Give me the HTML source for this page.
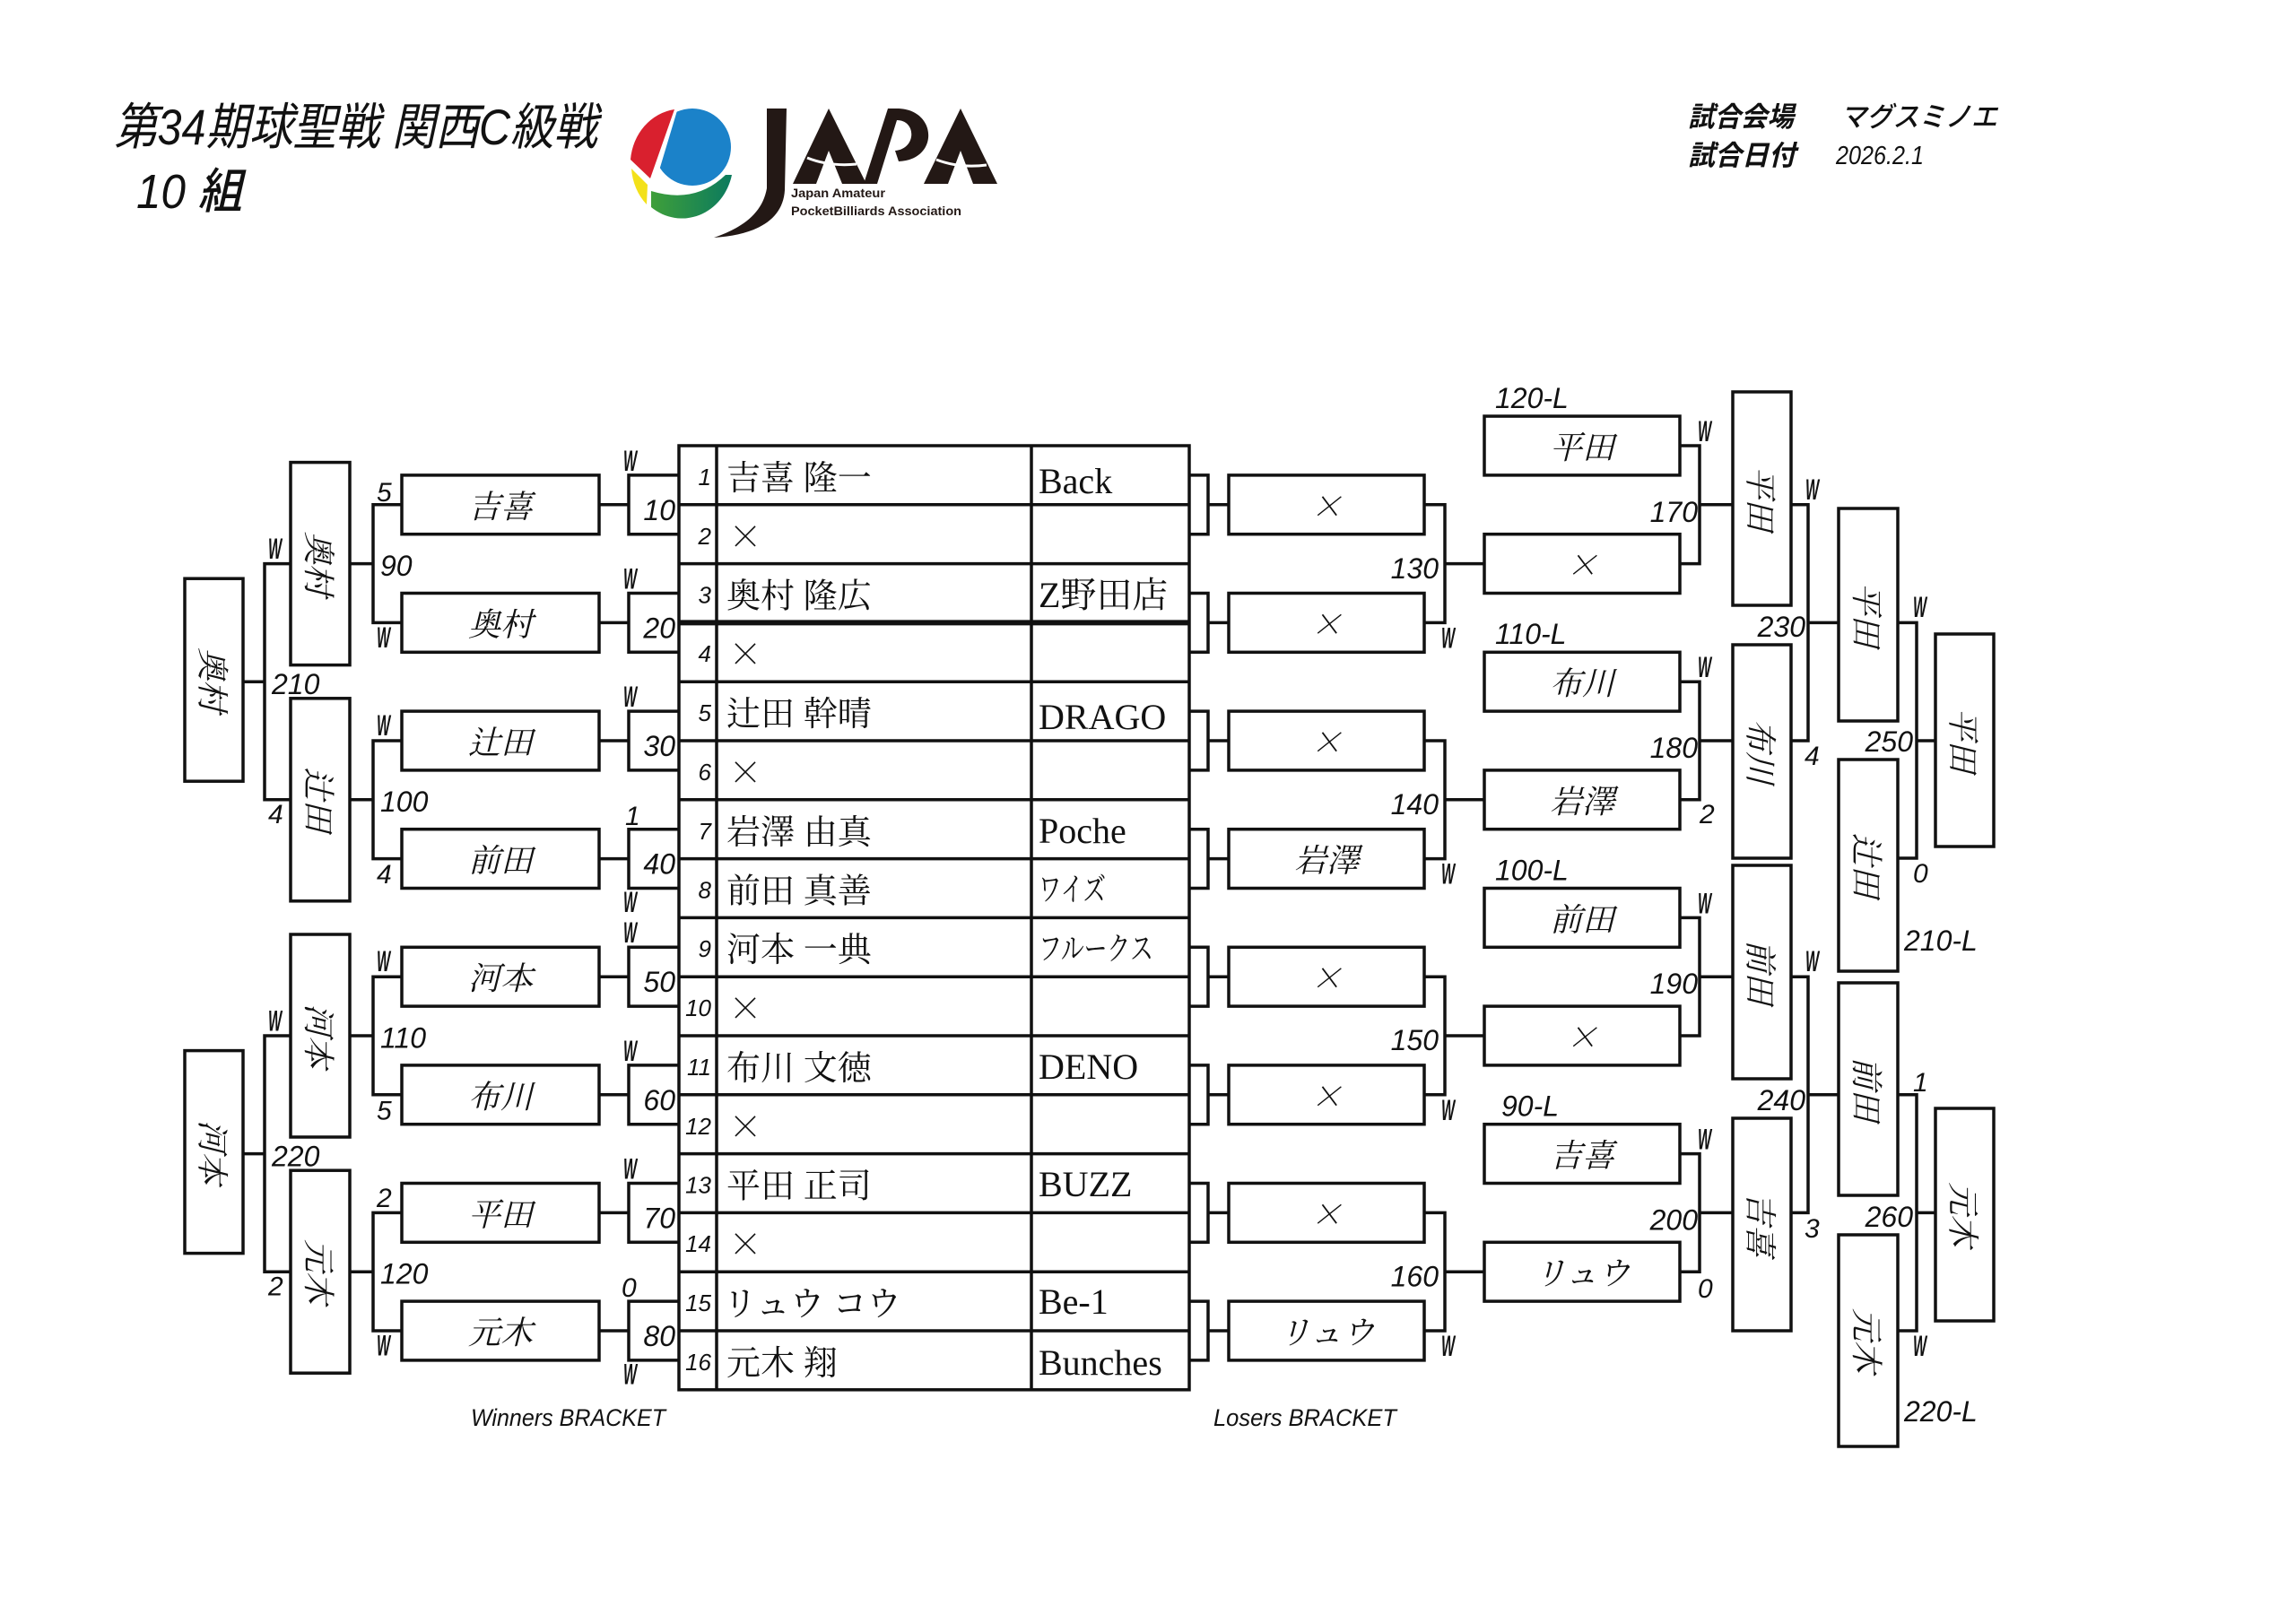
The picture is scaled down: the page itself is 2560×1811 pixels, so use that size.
<!DOCTYPE html>
<html><head><meta charset="utf-8">
<style>
html,body{margin:0;padding:0;background:#fff;}
svg{display:block}
.s{font-family:"Liberation Sans","Noto Sans CJK JP",sans-serif;font-style:italic;fill:#111}
.sc{font-size:32px}
.w{font-size:32px;font-weight:700}
.d{font-size:30px}
.nb{font-family:"Liberation Sans",sans-serif;font-style:italic;font-size:26px;fill:#111}
.tn{font-family:"Noto Serif CJK JP",serif;font-size:38px;fill:#111}
.tm{font-family:"Liberation Serif","Noto Serif CJK JP",serif;font-size:40px;fill:#111}
.bn{font-family:"Noto Serif CJK JP",serif;font-size:36px;font-style:italic;fill:#111}
.hd{font-family:"Liberation Sans","Noto Sans CJK JP",sans-serif;font-style:italic;fill:#111}
</style></head>
<body>
<svg width="2560" height="1811" viewBox="0 0 2560 1811" xmlns="http://www.w3.org/2000/svg">
<defs>
<clipPath id="cb"><polygon points="762,100 900,100 900,240 720,240"/></clipPath>
<linearGradient id="gg" x1="0" y1="0" x2="1" y2="0"><stop offset="0" stop-color="#3f9f3a"/><stop offset="1" stop-color="#0b7a5e"/></linearGradient>
</defs>
<rect width="2560" height="1811" fill="#fff"/>

<!-- HEADER -->
<text class="hd" x="127" y="161" font-size="56" textLength="539" lengthAdjust="spacingAndGlyphs">第34期球聖戦 関西C級戦</text>
<text class="hd" x="152" y="232" font-size="54" font-weight="500" textLength="118" lengthAdjust="spacingAndGlyphs">10 組</text>

<text class="hd" x="1882" y="141" font-size="31" font-weight="700" textLength="118" lengthAdjust="spacingAndGlyphs">試合会場</text>
<text class="hd" x="2052" y="141" font-size="31" font-weight="500" textLength="175" lengthAdjust="spacingAndGlyphs">マグスミノエ</text>
<text class="hd" x="1882" y="184" font-size="31" font-weight="700" textLength="120" lengthAdjust="spacingAndGlyphs">試合日付</text>
<text class="hd" x="2047" y="183" font-size="29" textLength="98" lengthAdjust="spacingAndGlyphs">2026.2.1</text>

<!-- LOGO -->
<path d="M752,122 A57,62 0 0 0 703,178 L725,199 Z" fill="#d9202e"/>
<path d="M704,188 L722,206 L721,228 A57,62 0 0 1 704,188 Z" fill="#f3e11a"/>
<circle cx="772" cy="164" r="43" fill="#1b82c9" clip-path="url(#cb)"/>
<path d="M726,231 A57,62 0 0 0 816,195 L809,195 Q775,228 726,213 Z" fill="url(#gg)"/>
<path d="M855,121 L877,121 L875,212 C873,246 842,262 796,265 C828,254 850,238 855,210 Z" fill="#231815"/>
<path d="M884,205 L924,121 L966,205 Z" fill="#231815"/>
<path d="M910,205 L924,168 L939,205 Z" fill="#fff"/>
<path d="M900,176 Q925,186 955,183" stroke="#fff" stroke-width="3" fill="none"/>
<path d="M963,205 L990,121 L1000,121 C1045,121 1048,178 1002,180 L998,168 C1022,166 1022,134 1000,134 L978,205 Z" fill="#231815"/>
<path d="M1030,205 L1071,121 L1112,205 Z" fill="#231815"/>
<path d="M1057,205 L1071,168 L1085,205 Z" fill="#fff"/>
<path d="M1044,178 Q1070,188 1100,184" stroke="#fff" stroke-width="3" fill="none"/>
<text x="882" y="220" font-family="Liberation Sans,sans-serif" font-weight="700" font-size="13.5" fill="#231815" textLength="105" lengthAdjust="spacingAndGlyphs">Japan Amateur</text>
<text x="882" y="240" font-family="Liberation Sans,sans-serif" font-weight="700" font-size="13.5" fill="#231815" textLength="190" lengthAdjust="spacingAndGlyphs">PocketBilliards Association</text>

<!-- LINES & BOXES -->
<g fill="#fff" stroke="#111" stroke-width="3.5">
<rect x="757" y="497" width="569" height="1052.8" fill="none"/>
<path fill="none" d="M799,497V1549.8M1150,497V1549.8
M757,562.8H1326M757,628.6H1326M757,760.2H1326M757,826H1326M757,891.8H1326M757,957.6H1326M757,1023.4H1326M757,1089.2H1326M757,1155H1326M757,1220.8H1326M757,1286.6H1326M757,1352.4H1326M757,1418.2H1326M757,1484H1326"/>
<path fill="none" stroke-width="6" d="M757,694.4H1326"/>

<path fill="none" d="M757,529.9H701V595.7H757M757,661.5H701V727.3H757M757,793.1H701V858.9H757M757,924.7H701V990.5H757M757,1056.3H701V1122.1H757M757,1187.9H701V1253.7H757M757,1319.5H701V1385.3H757M757,1451.1H701V1516.9H757"/>
<path fill="none" d="M668,562.8H701M668,694.4H701M668,826H701M668,957.6H701M668,1089.2H701M668,1220.8H701M668,1352.4H701M668,1484H701"/>
<rect x="448" y="529.9" width="220" height="65.8"/>
<rect x="448" y="661.5" width="220" height="65.8"/>
<rect x="448" y="793.1" width="220" height="65.8"/>
<rect x="448" y="924.7" width="220" height="65.8"/>
<rect x="448" y="1056.3" width="220" height="65.8"/>
<rect x="448" y="1187.9" width="220" height="65.8"/>
<rect x="448" y="1319.5" width="220" height="65.8"/>
<rect x="448" y="1451.1" width="220" height="65.8"/>
<path fill="none" d="M448,562.8H416V694.4H448M416,628.6H390M448,826H416V957.6H448M416,891.8H390M448,1089.2H416V1220.8H448M416,1155H390M448,1352.4H416V1484H448M416,1418.2H390"/>
<rect x="324" y="515.6" width="66" height="226"/>
<rect x="324" y="778.8" width="66" height="226"/>
<rect x="324" y="1042" width="66" height="226"/>
<rect x="324" y="1305.2" width="66" height="226"/>
<path fill="none" d="M324,628.6H295V891.8H324M295,760.2H271M324,1155H295V1418.2H324M295,1286.6H271"/>
<rect x="206" y="645.2" width="65" height="226"/>
<rect x="206" y="1171.6" width="65" height="226"/>

<path fill="none" d="M1326,529.9H1347V595.7H1326M1347,562.8H1370M1326,661.5H1347V727.3H1326M1347,694.4H1370M1326,793.1H1347V858.9H1326M1347,826H1370M1326,924.7H1347V990.5H1326M1347,957.6H1370M1326,1056.3H1347V1122.1H1326M1347,1089.2H1370M1326,1187.9H1347V1253.7H1326M1347,1220.8H1370M1326,1319.5H1347V1385.3H1326M1347,1352.4H1370M1326,1451.1H1347V1516.9H1326M1347,1484H1370"/>
<rect x="1370" y="529.9" width="218" height="65.8"/>
<rect x="1370" y="661.5" width="218" height="65.8"/>
<rect x="1370" y="793.1" width="218" height="65.8"/>
<rect x="1370" y="924.7" width="218" height="65.8"/>
<rect x="1370" y="1056.3" width="218" height="65.8"/>
<rect x="1370" y="1187.9" width="218" height="65.8"/>
<rect x="1370" y="1319.5" width="218" height="65.8"/>
<rect x="1370" y="1451.1" width="218" height="65.8"/>
<path fill="none" d="M1588,562.8H1611V694.4H1588M1611,628.6H1655M1588,826H1611V957.6H1588M1611,891.8H1655M1588,1089.2H1611V1220.8H1588M1611,1155H1655M1588,1352.4H1611V1484H1588M1611,1418.2H1655"/>
<rect x="1655" y="464.1" width="218" height="65.8"/>
<rect x="1655" y="595.7" width="218" height="65.8"/>
<rect x="1655" y="727.3" width="218" height="65.8"/>
<rect x="1655" y="858.9" width="218" height="65.8"/>
<rect x="1655" y="990.5" width="218" height="65.8"/>
<rect x="1655" y="1122.1" width="218" height="65.8"/>
<rect x="1655" y="1253.7" width="218" height="65.8"/>
<rect x="1655" y="1385.3" width="218" height="65.8"/>
<path fill="none" d="M1873,497H1895V628.6H1873M1895,562.8H1932M1873,760.2H1895V891.8H1873M1895,826H1932M1873,1023.4H1895V1155H1873M1895,1089.2H1932M1873,1286.6H1895V1418.2H1873M1895,1352.4H1932"/>
<rect x="1932" y="437" width="65" height="238"/>
<rect x="1932" y="719" width="65" height="238"/>
<rect x="1932" y="965" width="65" height="238"/>
<rect x="1932" y="1247" width="65" height="237"/>
<path fill="none" d="M1997,562.8H2016V826H1997M2016,694.4H2050M1997,1089.2H2016V1352.4H1997M2016,1220.8H2050"/>
<rect x="2050" y="567" width="66" height="237"/>
<rect x="2050" y="847" width="66" height="236"/>
<rect x="2050" y="1096" width="66" height="237"/>
<rect x="2050" y="1377" width="66" height="236"/>
<path fill="none" d="M2116,694.4H2137V957H2116M2137,826H2158M2116,1220.8H2137V1484H2116M2137,1352.4H2158"/>
<rect x="2158" y="707" width="65" height="237"/>
<rect x="2158" y="1236" width="65" height="237"/>
</g>

<!-- TABLE TEXT -->
<g class="nb" text-anchor="end">
<text x="793" y="541">1</text><text x="793" y="607">2</text><text x="793" y="672.5">3</text><text x="793" y="738">4</text>
<text x="793" y="804">5</text><text x="793" y="870">6</text><text x="793" y="936">7</text><text x="793" y="1001.5">8</text>
<text x="793" y="1067">9</text><text x="793" y="1133">10</text><text x="793" y="1199">11</text><text x="793" y="1265">12</text>
<text x="793" y="1330.5">13</text><text x="793" y="1396">14</text><text x="793" y="1462">15</text><text x="793" y="1528">16</text>
</g>
<g class="tn">
<text x="810" y="546">吉喜 隆一</text>
<text x="812" y="612">×</text>
<text x="810" y="677.5">奥村 隆広</text>
<text x="812" y="743">×</text>
<text x="810" y="809">辻田 幹晴</text>
<text x="812" y="875">×</text>
<text x="810" y="941">岩澤 由真</text>
<text x="810" y="1006.5">前田 真善</text>
<text x="810" y="1072">河本 一典</text>
<text x="812" y="1138">×</text>
<text x="810" y="1204">布川 文徳</text>
<text x="812" y="1270">×</text>
<text x="810" y="1335.5">平田 正司</text>
<text x="812" y="1401">×</text>
<text x="806" y="1467">リュウ コウ</text>
<text x="810" y="1533">元木 翔</text>
</g>
<g class="tm">
<text x="1158" y="550">Back</text>
<text x="1158" y="677">Z野田店</text>
<text x="1158" y="813">DRAGO</text>
<text x="1158" y="940">Poche</text>
<text x="1158" y="1004" font-size="36" textLength="75" lengthAdjust="spacingAndGlyphs">ワイズ</text>
<text x="1158" y="1070" font-size="36" textLength="128" lengthAdjust="spacingAndGlyphs">フルークス</text>
<text x="1158" y="1203">DENO</text>
<text x="1158" y="1334">BUZZ</text>
<text x="1158" y="1465">Be-1</text>
<text x="1158" y="1533">Bunches</text>
</g>

<!-- BOX NAMES -->
<g class="bn" text-anchor="middle" dominant-baseline="central">
<text x="558" y="562.8">吉喜</text>
<text x="558" y="694.4">奥村</text>
<text x="558" y="826">辻田</text>
<text x="558" y="957.6">前田</text>
<text x="558" y="1089.2">河本</text>
<text x="558" y="1220.8">布川</text>
<text x="558" y="1352.4">平田</text>
<text x="558" y="1484">元木</text>

<text x="357" y="628.6" transform="rotate(90 357 628.6)">奥村</text>
<text x="357" y="891.8" transform="rotate(90 357 891.8)">辻田</text>
<text x="357" y="1155" transform="rotate(90 357 1155)">河本</text>
<text x="357" y="1418.2" transform="rotate(90 357 1418.2)">元木</text>
<text x="238.5" y="758.2" transform="rotate(90 238.5 758.2)">奥村</text>
<text x="238.5" y="1284.6" transform="rotate(90 238.5 1284.6)">河本</text>

<text x="1479" y="562.8">×</text>
<text x="1479" y="694.4">×</text>
<text x="1479" y="826">×</text>
<text x="1479" y="957.6">岩澤</text>
<text x="1479" y="1089.2">×</text>
<text x="1479" y="1220.8">×</text>
<text x="1479" y="1352.4">×</text>
<text x="1479" y="1484">リュウ</text>

<text x="1764" y="497">平田</text>
<text x="1764" y="628.6">×</text>
<text x="1764" y="760.2">布川</text>
<text x="1764" y="891.8">岩澤</text>
<text x="1764" y="1023.4">前田</text>
<text x="1764" y="1155">×</text>
<text x="1764" y="1286.6">吉喜</text>
<text x="1764" y="1418.2">リュウ</text>

<text x="1964.5" y="556" transform="rotate(90 1964.5 556)">平田</text>
<text x="1964.5" y="838" transform="rotate(90 1964.5 838)">布川</text>
<text x="1964.5" y="1084" transform="rotate(90 1964.5 1084)">前田</text>
<text x="1964.5" y="1365.5" transform="rotate(90 1964.5 1365.5)">吉喜</text>
<text x="2083" y="685.5" transform="rotate(90 2083 685.5)">平田</text>
<text x="2083" y="965" transform="rotate(90 2083 965)">辻田</text>
<text x="2083" y="1214.5" transform="rotate(90 2083 1214.5)">前田</text>
<text x="2083" y="1495" transform="rotate(90 2083 1495)">元木</text>
<text x="2190.5" y="825.5" transform="rotate(90 2190.5 825.5)">平田</text>
<text x="2190.5" y="1354.5" transform="rotate(90 2190.5 1354.5)">元木</text>
</g>

<!-- SCORES -->
<g class="s sc" text-anchor="end">
<text x="753" y="579.8">10</text><text x="753" y="711.4">20</text><text x="753" y="843">30</text><text x="753" y="974.6">40</text>
<text x="753" y="1106.2">50</text><text x="753" y="1237.8">60</text><text x="753" y="1369.4">70</text><text x="753" y="1501">80</text>
<text x="1604" y="645">130</text><text x="1604" y="908">140</text><text x="1604" y="1171">150</text><text x="1604" y="1434.5">160</text>
<text x="1893" y="581.8">170</text><text x="1893" y="845">180</text><text x="1893" y="1108">190</text><text x="1893" y="1371.4">200</text>
<text x="2013" y="710">230</text><text x="2013" y="1238">240</text>
<text x="2133" y="838">250</text><text x="2133" y="1368">260</text>
</g>
<g class="s sc">
<text x="424" y="642">90</text><text x="424" y="905">100</text><text x="424" y="1168.5">110</text><text x="424" y="1431.5">120</text>
<text x="303" y="774">210</text><text x="303" y="1300.5">220</text>
<text x="1667" y="455">120-L</text><text x="1667" y="718">110-L</text><text x="1667" y="981.5">100-L</text><text x="1674" y="1244.7">90-L</text>
<text x="2123" y="1060">210-L</text><text x="2123" y="1585">220-L</text>
</g>
<g class="s d">
<text x="697" y="920">1</text><text x="693" y="1446">0</text>
<text x="420" y="559">5</text><text x="420" y="985">4</text><text x="420" y="1248.5">5</text><text x="420" y="1346">2</text>
<text x="299" y="918">4</text><text x="299" y="1444.5">2</text>
<text x="1895" y="918">2</text><text x="1893" y="1447">0</text>
<text x="2012" y="853">4</text><text x="2012" y="1380">3</text>
<text x="2133" y="984">0</text><text x="2133" y="1217">1</text>
</g>
<g class="s w">
<text transform="translate(695,525) scale(0.5,1)">W</text>
<text transform="translate(695,656.5) scale(0.5,1)">W</text>
<text transform="translate(695,788) scale(0.5,1)">W</text>
<text transform="translate(695,1017) scale(0.5,1)">W</text>
<text transform="translate(695,1051) scale(0.5,1)">W</text>
<text transform="translate(695,1183) scale(0.5,1)">W</text>
<text transform="translate(695,1314.5) scale(0.5,1)">W</text>
<text transform="translate(695,1543.5) scale(0.5,1)">W</text>
<text transform="translate(420,722) scale(0.5,1)">W</text>
<text transform="translate(420,820) scale(0.5,1)">W</text>
<text transform="translate(420,1083) scale(0.5,1)">W</text>
<text transform="translate(420,1511.5) scale(0.5,1)">W</text>
<text transform="translate(299,623) scale(0.5,1)">W</text>
<text transform="translate(299,1149.5) scale(0.5,1)">W</text>
<text transform="translate(1607,722.4) scale(0.5,1)">W</text>
<text transform="translate(1607,985.6) scale(0.5,1)">W</text>
<text transform="translate(1607,1248.8) scale(0.5,1)">W</text>
<text transform="translate(1607,1512) scale(0.5,1)">W</text>
<text transform="translate(1893,492) scale(0.5,1)">W</text>
<text transform="translate(1893,755) scale(0.5,1)">W</text>
<text transform="translate(1893,1018.4) scale(0.5,1)">W</text>
<text transform="translate(1893,1281.6) scale(0.5,1)">W</text>
<text transform="translate(2013,557) scale(0.5,1)">W</text>
<text transform="translate(2013,1083) scale(0.5,1)">W</text>
<text transform="translate(2133,688) scale(0.5,1)">W</text>
<text transform="translate(2133,1512) scale(0.5,1)">W</text>
</g>

<!-- FOOTER LABELS -->
<text class="s" x="525" y="1590" font-size="27" textLength="217" lengthAdjust="spacingAndGlyphs">Winners BRACKET</text>
<text class="s" x="1353" y="1590" font-size="27" textLength="204" lengthAdjust="spacingAndGlyphs">Losers BRACKET</text>
</svg>
</body></html>
